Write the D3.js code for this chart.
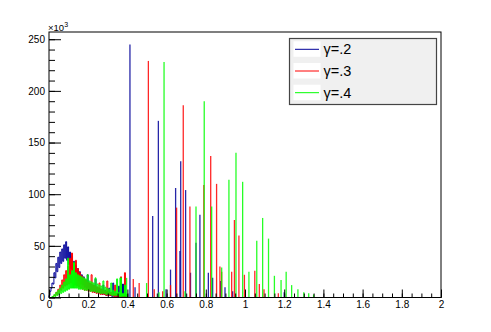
<!DOCTYPE html>
<html>
<head>
<meta charset="utf-8">
<title>gamma spectra</title>
<style>
  body { margin: 0; background: #fff; }
  text { font-family: "Liberation Sans", Arial, sans-serif; }
</style>
</head>
<body>
<svg width="491" height="332"></svg>
<script src="https://d3js.org/d3.v7.min.js"></script>
<script>
// low energy bump, bins of 0.005 starting at 0 (values in 10^3 counts)
var binWidth = 0.005
var bumpBlue = [2,6,9,14,13,24,19,33,25,39,29,44,33,47,35,51,38,54,36,49,
  32,44,28,40,24,35,21,31,18,28,16,25,13,22,12,20,10,17,9,22,
  8,14,7,13,6,12,5,18,5,10,4,9,4,8,3,12,3,7,2,6,
  2,9,2,5,1,14,1,4,1,4,1,11,1,3,1,13,0,2,0,2]
var bumpRed = [0,0,0,0,1,2,2,5,3,8,5,12,7,17,9,22,11,26,12,30,
  13,38,14,43,13,32,12,36,11,28,10,24,9,21,8,19,7,17,7,15,
  6,14,6,22,5,12,5,11,4,10,4,14,3,8,3,7,3,6,2,16,
  2,5,2,5,2,4,1,12,1,4,1,3,1,20,1,3,1,24,1,2]
var bumpGreen = [0,0,0,1,1,3,1,5,2,7,3,9,4,12,5,15,6,18,7,38,
  8,22,9,26,9,34,9,24,9,22,8,21,8,20,8,19,7,18,7,22,
  7,16,6,15,6,14,6,19,5,13,5,12,4,11,4,16,4,10,3,9,
  3,8,3,14,2,7,2,6,2,18,2,5,1,19,1,4,1,12,1,3]

// isolated lines [x, counts in 10^3]
var spikesBlue = [[0.376,13],[0.413,245],[0.439,10],[0.529,79],[0.558,171],[0.597,8],
  [0.620,27],[0.646,106],[0.668,45],[0.672,132],[0.697,104],[0.722,24],[0.750,53],
  [0.770,80],[0.813,24],[0.835,19],[0.876,16],[0.898,10],[0.937,6],[1.2,5]]
var spikesRed = [[0.430,18],[0.460,14],[0.507,229],[0.537,8],[0.580,6],[0.620,12],
  [0.651,87],[0.685,186],[0.719,88],[0.790,109],[0.825,137],[0.855,110],[0.872,30],
  [0.881,25],[0.932,25],[0.946,75],[0.969,60],[0.997,22],[1.050,26],[1.073,13],
  [1.097,8],[1.170,4]]
var spikesGreen = [[0.362,19],[0.396,19],[0.498,14],[0.561,5],[0.587,228],[0.694,6],
  [0.750,88],[0.792,190],[0.830,88],[0.881,29],[0.918,114],[0.954,140],[0.988,112],
  [1.020,25],[1.060,55],[1.090,77],[1.120,57],[1.150,21],[1.184,17],[1.210,25],
  [1.238,12],[1.270,8],[1.300,5],[1.325,4],[1.350,3]]

var seriesNames = ["γ=.2", "γ=.3", "γ=.4"]
var seriesColors = ["#000099", "#ff0000", "#00ff00"]

var xTicks = [0, 0.2, 0.4, 0.6, 0.8, 1, 1.2, 1.4, 1.6, 1.8, 2]
var yTicks = [0, 50, 100, 150, 200, 250]

var svg = d3.select("svg")

var x = d3.scaleLinear().domain([0, 2]).range([49, 441])
var y = d3.scaleLinear().domain([0, 257]).range([297.5, 32])

var series = [
  { bump: bumpBlue, spikes: spikesBlue },
  { bump: bumpRed, spikes: spikesRed },
  { bump: bumpGreen, spikes: spikesGreen }
]

var stepLine = d3.line()
  .x(function (d) { return x(d[0]) })
  .y(function (d) { return y(d[1]) })
  .curve(d3.curveStepAfter)

var plot = svg.append("g")

series.forEach(function (s, k) {
  var color = seriesColors[k]
  var g = plot.append("g")

  // histogram outline along zero
  g.append("line")
    .attr("x1", x(0)).attr("x2", x(2))
    .attr("y1", y(0)).attr("y2", y(0))
    .attr("stroke", color).attr("stroke-width", 1.2)

  var pts = [[0, 0]]
  s.bump.forEach(function (v, i) { pts.push([i * binWidth, v]) })
  pts.push([s.bump.length * binWidth, 0])

  g.append("path")
    .attr("d", stepLine(pts))
    .attr("fill", "none")
    .attr("stroke", color)
    .attr("stroke-width", 1)

  g.selectAll("line.spike")
    .data(s.spikes)
    .enter().append("line")
    .attr("class", "spike")
    .attr("x1", function (d) { return x(d[0]) })
    .attr("x2", function (d) { return x(d[0]) })
    .attr("y1", y(0))
    .attr("y2", function (d) { return y(d[1]) })
    .attr("stroke", color)
    .attr("stroke-width", 1.3)
    .attr("stroke-opacity", 0.85)
})

// axes, ROOT style ticks pointing into the frame
var xMinor = d3.range(0, 2.001, 0.05)
var yMinor = d3.range(0, 257, 10)

svg.append("g")
  .attr("transform", "translate(0," + y(0) + ")")
  .call(d3.axisBottom(x).tickValues(xMinor).tickSize(-4).tickFormat(""))
  .call(function (g) { g.select(".domain").remove() })

svg.append("g")
  .attr("transform", "translate(0," + y(0) + ")")
  .call(d3.axisBottom(x).tickValues(xTicks).tickSize(-8).tickPadding(3.5)
    .tickFormat(function (d) { return String(+d.toFixed(1)) }))
  .call(function (g) { g.select(".domain").remove() })

svg.append("g")
  .attr("transform", "translate(" + x(0) + ",0)")
  .call(d3.axisLeft(y).tickValues(yMinor).tickSize(-6).tickFormat(""))
  .call(function (g) { g.select(".domain").remove() })

svg.append("g")
  .attr("transform", "translate(" + x(0) + ",0)")
  .call(d3.axisLeft(y).tickValues(yTicks).tickSize(-12).tickPadding(4))
  .call(function (g) { g.select(".domain").remove() })

svg.selectAll(".tick text").attr("font-size", 10).attr("fill", "#000")
  .attr("font-family", "'Liberation Sans', Arial, sans-serif")
svg.selectAll(".tick line").attr("stroke", "#000")

// frame
svg.append("rect")
  .attr("x", x(0)).attr("y", y.range()[1])
  .attr("width", x(2) - x(0)).attr("height", y(0) - y.range()[1])
  .attr("fill", "none").attr("stroke", "#000").attr("stroke-width", 1)

// exponent label
var expo = svg.append("text")
  .attr("x", 48).attr("y", 30.5)
  .attr("font-size", 9.5)
expo.append("tspan").text("×10")
expo.append("tspan").attr("font-size", 7).attr("dy", -4).text("3")

// legend
var legend = svg.append("g")
legend.append("rect")
  .attr("x", 289.5).attr("y", 38.5).attr("width", 147).attr("height", 66)
  .attr("fill", "#f0f0f0").attr("stroke", "#444").attr("stroke-width", 1.2)

var rowY = [49.3, 71, 92.7]
seriesNames.forEach(function (name, i) {
  legend.append("rect")
    .attr("x", 293.5).attr("y", rowY[i] - 8).attr("width", 27).attr("height", 15.5)
    .attr("fill", "#fff")
  legend.append("line")
    .attr("x1", 295).attr("x2", 319)
    .attr("y1", rowY[i]).attr("y2", rowY[i])
    .attr("stroke", seriesColors[i]).attr("stroke-width", 1)
  legend.append("text")
    .attr("x", 323.5).attr("y", rowY[i] + 5)
    .attr("font-size", 14.5)
    .text(name)
})
</script>
</body>
</html>
